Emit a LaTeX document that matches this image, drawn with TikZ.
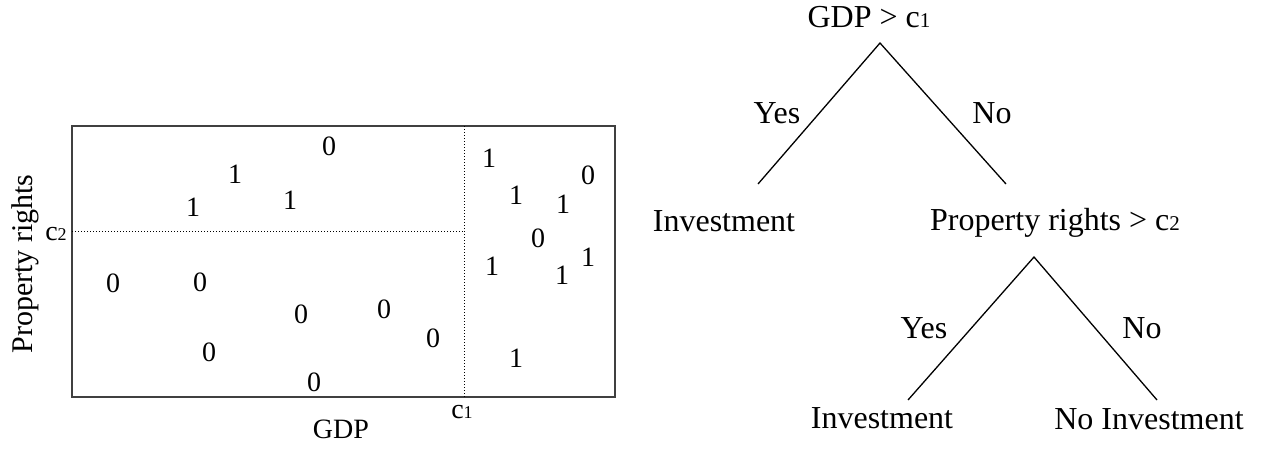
\documentclass[tikz,border=0pt]{standalone}
\usepackage{fontspec}
\setmainfont{Liberation Serif}
\newcommand\csub[2]{c{\fontsize{#2}{#2}\selectfont #1}}
\begin{document}
\begin{tikzpicture}[x=1pt,y=-1pt,
  treetxt/.style={inner sep=0pt,anchor=base,font=\fontsize{32}{36}\selectfont},
  plottxt/.style={inner sep=0pt,anchor=base,font=\fontsize{28}{32}\selectfont},
  digit/.style={inner sep=0pt,anchor=center,font=\fontsize{28}{32}\selectfont},
  branch/.style={line width=1.3pt,black},
  frame/.style={line width=1.2pt,black!75},
  cut/.style={line width=1pt,dotted,black}]
\useasboundingbox (0,0) rectangle (1267,452);
% ---------- left plot ----------
\coordinate (bl) at (72,397);
\coordinate (tr) at (615,126);
\draw[frame] (bl) rectangle (tr);
\coordinate (c1top) at (464,126);
\coordinate (c1bot) at (464,397);
\coordinate (c2left) at (72,231);
\coordinate (c2right) at (464,231);
\draw[cut] (c1top) -- (c1bot);
\draw[cut] (c2left) -- (c2right);
\node[plottxt] (lc1) at (462,418) {\csub{1}{18}};
\node[plottxt] (lc2) at (56,240) {\csub{2}{18}};
\node[plottxt] (lgdp) at (341,438) {GDP};
\node[inner sep=0pt,anchor=center,rotate=90,font=\fontsize{30}{34}\selectfont] (lpr) at (25,264) {Property rights};
% digits
\node[digit] (d1) at (329,146) {0};
\node[digit] (d2) at (235,174) {1};
\node[digit] (d3) at (193,207) {1};
\node[digit] (d4) at (290,200) {1};
\node[digit] (d5) at (489,158) {1};
\node[digit] (d6) at (588,175) {0};
\node[digit] (d7) at (516,195) {1};
\node[digit] (d8) at (563,204) {1};
\node[digit] (d9) at (538,238) {0};
\node[digit] (d10) at (492,266) {1};
\node[digit] (d11) at (588,257) {1};
\node[digit] (d12) at (562,275) {1};
\node[digit] (d13) at (113,283) {0};
\node[digit] (d14) at (200,282) {0};
\node[digit] (d15) at (301,314) {0};
\node[digit] (d16) at (384,309) {0};
\node[digit] (d17) at (433,338) {0};
\node[digit] (d18) at (209,352) {0};
\node[digit] (d19) at (314,382) {0};
\node[digit] (d20) at (516,358) {1};
% ---------- decision tree ----------
\node[treetxt] (root) at (869,28) {GDP > \csub{1}{21}};
\coordinate (a1) at (880,43);
\coordinate (a1l) at (758,184);
\coordinate (a1r) at (1006,184);
\draw[branch] (a1l) -- (a1) -- (a1r);
\node[treetxt] (y1) at (777,123) {Yes};
\node[treetxt] (n1) at (992,123) {No};
\node[treetxt] (inv1) at (724,231) {Investment};
\node[treetxt] (pr) at (1055,230) {Property rights > \csub{2}{21}};
\coordinate (a2) at (1034,257);
\coordinate (a2l) at (908,400);
\coordinate (a2r) at (1157,400);
\draw[branch] (a2l) -- (a2) -- (a2r);
\node[treetxt] (y2) at (924,338) {Yes};
\node[treetxt] (n2) at (1142,338) {No};
\node[treetxt] (inv2) at (882,428) {Investment};
\node[treetxt] (ninv) at (1149,429) {No Investment};
\end{tikzpicture}
\end{document}
